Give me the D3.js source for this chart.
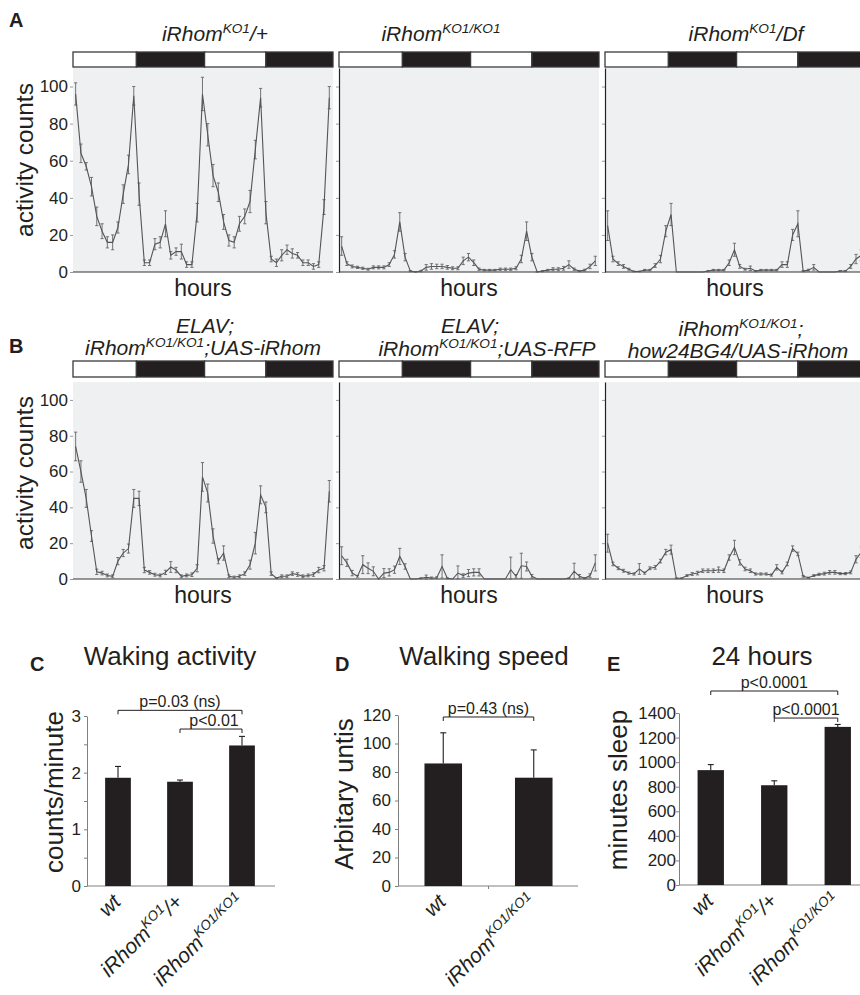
<!DOCTYPE html>
<html><head><meta charset="utf-8">
<script src="https://cdn.jsdelivr.net/npm/d3@7"></script>
<style>
body{margin:0;background:#fff}
text{font-family:"Liberation Sans",Arial,Helvetica,sans-serif;fill:#231f20}
</style>
</head><body>
<svg id="fig" width="860" height="995" xmlns="http://www.w3.org/2000/svg"></svg>
<script>
// ---------- DATA ----------
const hours = [0,1,2,3,4,5,6,7,8,9,10,11,12,13,14,15,16,17,18,19,20,21,22,23,24,25,26,27,28,29,30,31,32,33,34,35,36,37,38,39,40,41,42,43,44,45,46,47,48];
const lightBoundaries = [11.5, 24.4, 36];          // hours where light/dark switches
const phases = ["light","dark","light","dark"];
const activityTicks = [0,20,40,60,80,100];

const koHet    = [96,64,57,46,30,22,16,16,24,42,58,95,42,5,5,15,16,26,9,11,11,4,4,32,96,74,52,43,27,17,16,26,30,38,66,94,32,7,5,9,12,10,9,5,5,3,4,35,94];
const koHetErr = [6,5,2,5,5,4,3,4,3,5,5,5,6,1.5,1.5,3,3,7,2,2,4,1.5,1.5,5,9,6,6,5,4,3,3,4,4,6,5,5,6,1.5,2,3,2.5,2.5,1.5,1.5,1.5,1.5,1.5,4,6];
const koHom    = [14,4.5,3,2.5,2,1.5,2.5,2.5,2.5,4,9.5,27,8,0.5,0,0.5,2.5,3,3,3,2.5,2,2,6,8,5,1.5,1,1,1,1.5,1.5,1.5,2,7,22,8,0,0.5,1,1.5,1.5,2,4,1.5,0.5,1,3,6];
const koHomErr = [5,1,0.8,0.6,0.6,0.5,0.8,0.8,0.8,1,2,5,2,0.3,0.2,0.4,1.5,1.5,1.2,1.2,1,0.8,0.8,2,2,1.5,0.6,0.4,0.4,0.4,0.6,0.6,0.6,0.8,2,5,2,0.2,0.3,0.4,0.8,0.8,1,2,0.6,0.3,0.5,1.2,2.5];
const koDf     = [25,7,4.5,3,1.5,0.3,0.3,1,1,3.5,7,22,31,0,0,0,0,0,0,0.5,1,1,1,5,12,3,1.5,2,0.5,1,1,1,1,4,4,20,26,0.5,1,2.5,0,0,0,0,0.5,0.5,3,7,9];
const koDfErr  = [8,1.5,1,1,0.5,0.2,0.2,0.4,0.4,1,2,3,6,0,0,0,0,0,0,0.3,0.4,0.4,0.4,1.5,3.5,1,0.5,1.2,0.3,0.4,0.4,0.4,0.4,1.5,1.5,3,7,0.3,0.5,1.5,0,0,0,0,0.3,0.3,1,2.5,3];
const elavRescue    = [74,60,45,24,4,3.3,2,1.5,10,14.5,17,45,45,5,3.7,2.4,2,3.7,6.7,5,1.5,2,2.4,6,57,48,24,10,14.5,1.5,1,1.5,3,8,20,47,40,3,0.5,1.5,1.5,3,2.5,1.5,2,2.5,5,6,49];
const elavRescueErr = [8,6,5,3,1.5,1,0.8,0.8,2,2,2.5,5,4,1.5,1,0.8,0.8,1.2,3,1.5,0.8,0.8,1,2,8,5,4,1.5,4,0.8,0.6,0.8,1,2.5,6,5,3,1,0.3,0.8,0.8,1,1,0.8,0.8,1,1.5,1.5,6];
const elavRfp    = [13,9,3.3,1.5,8,6,4.3,0,3.3,3.7,5.2,12.6,7,0,0,0.4,1,0.6,0.7,7,0.4,0,3.3,1.9,3.3,3.7,3.7,0,0,0,0,0,5.2,1.5,7.4,7,1.5,0,0,0,0,0,0,0.4,4.3,1.5,0.4,1.9,9];
const elavRfpErr = [5,2,1.5,0.5,5,3,2.5,0,2.5,2,2,4.5,1.5,0,0,0.3,1.2,0.5,0.5,6.5,0.3,0,4,1,2,2,2,0,0,0,0,0,7,1,7,2.5,1,0,0,0,0,0,0,0.3,4.5,1,0.3,1,4.5];
const howRescue    = [20,8.4,6,4.6,3.3,2.8,5.6,3.3,6,6.5,10,15,16.4,0.4,0.4,1.9,2.8,3.3,4.6,4.6,4.6,5.2,4.6,12,17.6,9.3,5.6,4.6,2.8,2.8,2.8,2.2,6.5,3.7,8.4,17,14,1.5,0.7,1.9,2.6,3,3.7,3.7,3,3,3.7,11,15];
const howRescueErr = [5,1,0.8,0.8,0.6,0.6,3,0.6,0.8,1,1,1.5,2.5,0.2,0.2,0.5,0.8,1,1,1,1,1.5,1,1.5,4,1.5,1,1,0.6,0.6,0.6,0.6,1.5,0.8,1,1.5,1,0.5,0.3,0.5,0.6,0.8,1,1,0.6,0.6,0.8,2,3];

// genotype labels: [text, isSuperscript]
const lblWt    = [["wt",0]];
const lblHet   = [["iRhom",0],["KO1",1],["/+",0]];
const lblHom   = [["iRhom",0],["KO1/KO1",1]];

const wakingCats = ["wt","het","hom"];
const wakingVals = [1.91, 1.84, 2.48];
const wakingErr  = [0.20, 0.03, 0.16];
const wakingTicks = [0,0.5,1,1.5,2,2.5,3];

const speedCats = ["wt","hom"];
const speedVals = [86, 76];
const speedErr  = [21.5, 19.5];
const speedTicks = [0,20,40,60,80,100,120];

const sleepCats = ["wt","het","hom"];
const sleepVals = [935, 812, 1287];
const sleepErr  = [45, 36, 20];
const sleepTicks = [0,200,400,600,800,1000,1200,1400];

// ---------- HELPERS ----------
const svg = d3.select("#fig");
const INK = "#231f20";

function rich(textSel, parts, size){
  parts.forEach(([t,sup],i)=>{
    const prevSup = i>0 && parts[i-1][1];
    const ts = textSel.append("tspan").text(t);
    if(sup){ ts.attr("font-size", size*0.65); if(!prevSup) ts.attr("dy", -size*0.4); }
    else if(prevSup){ ts.attr("dy", size*0.4); }
  });
  return textSel;
}

function activity(c){
  const g = svg.append("g");
  const x = d3.scaleLinear().domain([-0.5, 48.7]).range([c.x0, c.x1]);
  const y = d3.scaleLinear().domain([0,110]).range([c.yb, c.yt]);
  g.append("rect").attr("x",c.x0).attr("y",c.yt).attr("width",c.x1-c.x0).attr("height",c.yb-c.yt).attr("fill","#eef0f2");
  const edges = [x.domain()[0], ...lightBoundaries, x.domain()[1]];
  g.selectAll(".ld").data(phases).join("rect")
    .attr("x",(p,i)=>x(edges[i])).attr("y",c.bt)
    .attr("width",(p,i)=>x(edges[i+1])-x(edges[i])).attr("height",c.bb-c.bt)
    .attr("fill",p=>p==="dark"?INK:"#fff").attr("stroke","#3a3a3a").attr("stroke-width",1.3);
  const ax = g.append("g").attr("transform",`translate(${c.x0},0)`)
    .call(d3.axisLeft(y).tickValues(activityTicks).tickSize(3).tickSizeOuter(0).tickPadding(2)
      .tickFormat(c.labels? d3.format("d") : ""));
  ax.select(".domain").attr("stroke", c.labels? "none" : "#222").attr("stroke-width",1.2);
  ax.selectAll(".tick line").attr("stroke","#999");
  ax.selectAll(".tick text").attr("font-size",17).attr("fill",INK)
    .style("font-family",'"Liberation Sans",Arial,sans-serif');
  g.append("line").attr("x1",c.x0).attr("x2",c.x1).attr("y1",y(0)).attr("y2",y(0)).attr("stroke","#333").attr("stroke-width",1.2);
  // error bars
  const eb = g.append("g").attr("stroke","#666").attr("stroke-width",0.9);
  c.vals.forEach((v,i)=>{
    const e = c.errs[i]; if(!e) return;
    const xx = x(hours[i]), lo = y(Math.max(0,v-e)), hi = y(v+e);
    eb.append("line").attr("x1",xx).attr("x2",xx).attr("y1",lo).attr("y2",hi);
    eb.append("line").attr("x1",xx-1.6).attr("x2",xx+1.6).attr("y1",lo).attr("y2",lo);
    eb.append("line").attr("x1",xx-1.6).attr("x2",xx+1.6).attr("y1",hi).attr("y2",hi);
  });
  g.append("path").datum(c.vals).attr("fill","none").attr("stroke","#555").attr("stroke-width",1.1)
    .attr("d", d3.line().x((d,i)=>x(hours[i])).y(d=>y(d)));
  g.append("text").attr("x",(c.x0+c.x1)/2).attr("y",c.yb+24).attr("text-anchor","middle").attr("font-size",23).text("hours");
  if(c.labels){
    g.append("text").attr("transform",`translate(33,${c.ylc}) rotate(-90)`).attr("text-anchor","middle").attr("font-size",24.5).text("activity counts");
  }
  c.title.forEach(([tx,ty,parts])=>{
    rich(g.append("text").attr("x",tx).attr("y",ty).attr("text-anchor","middle").attr("font-size",21).attr("font-style","italic"), parts, 21);
  });
}

function bars(c){
  const g = svg.append("g");
  const x = d3.scaleBand().domain(c.cats).range([c.x0,c.x1]).paddingInner(0.585).paddingOuter(0.2925);
  const y = d3.scaleLinear().domain([0,c.ymax]).range([c.yb,c.yt]);
  const ax = g.append("g").attr("transform",`translate(${c.x0},0)`)
    .call(d3.axisLeft(y).tickValues(c.ticks).tickSize(3).tickSizeOuter(0).tickPadding(c.pad)
      .tickFormat(d=> c.labelEvery(d) ? d : ""));
  ax.select(".domain").attr("stroke","#808080");
  ax.selectAll(".tick line").attr("stroke","#808080");
  ax.selectAll(".tick text").attr("font-size",17).attr("fill",INK).style("font-family",'"Liberation Sans",Arial,sans-serif');
  g.append("line").attr("x1",c.x0).attr("x2",c.xAxisEnd).attr("y1",y(0)).attr("y2",y(0)).attr("stroke","#808080").attr("stroke-width",1.2);
  if(c.midTick){
    const bx = x(c.cats[1]) - x.step()*x.paddingInner()/2;
    g.append("line").attr("x1",bx).attr("x2",bx).attr("y1",y(0)).attr("y2",y(0)+3).attr("stroke","#808080");
  }
  g.selectAll(".bar").data(c.vals).join("rect")
    .attr("x",(d,i)=>x(c.cats[i])).attr("y",d=>y(d)).attr("width",x.bandwidth()).attr("height",d=>y(0)-y(d)).attr("fill",INK);
  const eb = g.append("g").attr("stroke",INK).attr("stroke-width",1.1);
  c.vals.forEach((v,i)=>{
    const cx = x(c.cats[i])+x.bandwidth()/2;
    eb.append("line").attr("x1",cx).attr("x2",cx).attr("y1",y(v)).attr("y2",y(v+c.errs[i]));
    eb.append("line").attr("x1",cx-3).attr("x2",cx+3).attr("y1",y(v+c.errs[i])).attr("y2",y(v+c.errs[i]));
  });
  c.labels.forEach((parts,i)=>{
    const cx = x(c.cats[i])+x.bandwidth()/2;
    rich(g.append("text").attr("transform",`translate(${cx+4},${y(0)+17}) rotate(-45)`).attr("text-anchor","end")
      .attr("font-size",21).attr("font-style","italic"), parts, 21);
  });
  c.brackets.forEach(b=>{
    const xa = x(c.cats[b.from])+x.bandwidth()/2, xb = x(c.cats[b.to])+x.bandwidth()/2, yy = y(b.at);
    g.append("path").attr("d",`M${xa},${yy+4}V${yy}H${xb}V${yy+4}`).attr("fill","none").attr("stroke",INK).attr("stroke-width",1);
    g.append("text").attr("x",(xa+xb)/2+(b.dx||0)).attr("y",yy-3).attr("text-anchor","middle").attr("font-size",16).text(b.text);
  });
  g.append("text").attr("transform",`translate(${c.ylx},${c.yly}) rotate(-90)`).attr("text-anchor","middle").attr("font-size",26).text(c.ylabel);
  g.append("text").attr("x",c.tx).attr("y",665).attr("text-anchor","middle").attr("font-size",26).text(c.title);
  g.append("text").attr("x",c.lx).attr("y",671).attr("font-size",20).attr("font-weight","bold").text(c.letter);
}

// ---------- PANEL A / B ----------
const cols = [[73,333],[339,599],[605,865]];
const rowA = {bt:52, bb:67, yt:68, yb:272, ylc:160};
const rowB = {bt:361, bb:377, yt:382, yb:579, ylc:473};

activity({...rowA, x0:cols[0][0], x1:cols[0][1], vals:koHet, errs:koHetErr, labels:true,
  title:[[215,41,[["iRhom",0],["KO1",1],["/+",0]]]]});
activity({...rowA, x0:cols[1][0], x1:cols[1][1], vals:koHom, errs:koHomErr, labels:false,
  title:[[441,41,[["iRhom",0],["KO1/KO1",1]]]]});
activity({...rowA, x0:cols[2][0], x1:cols[2][1], vals:koDf, errs:koDfErr, labels:false,
  title:[[746,41,[["iRhom",0],["KO1",1],["/Df",0]]]]});
activity({...rowB, x0:cols[0][0], x1:cols[0][1], vals:elavRescue, errs:elavRescueErr, labels:true,
  title:[[205,333,[["ELAV;",0]]],[203,355,[["iRhom",0],["KO1/KO1",1],[";UAS-iRhom",0]]]]});
activity({...rowB, x0:cols[1][0], x1:cols[1][1], vals:elavRfp, errs:elavRfpErr, labels:false,
  title:[[470,333,[["ELAV;",0]]],[487,356,[["iRhom",0],["KO1/KO1",1],[";UAS-RFP",0]]]]});
activity({...rowB, x0:cols[2][0], x1:cols[2][1], vals:howRescue, errs:howRescueErr, labels:false,
  title:[[741,336,[["iRhom",0],["KO1/KO1",1],[";",0]]],[738,358,[["how24BG4/UAS-iRhom",0]]]]});

svg.append("text").attr("x",9).attr("y",27).attr("font-size",20).attr("font-weight","bold").text("A");
svg.append("text").attr("x",9).attr("y",353).attr("font-size",20).attr("font-weight","bold").text("B");

// ---------- PANEL C / D / E ----------
bars({cats:wakingCats, vals:wakingVals, errs:wakingErr, labels:[lblWt,lblHet,lblHom],
  x0:87, x1:273, xAxisEnd:275, yb:886, yt:716, ymax:3, ticks:wakingTicks, pad:3, labelEvery:d=>Number.isInteger(d),
  brackets:[{from:0,to:2,at:3.1,text:"p=0.03 (ns)"},{from:1,to:2,at:2.77,text:"p<0.01",dx:3}],
  ylabel:"counts/minute", ylx:63, yly:792, title:"Waking activity", tx:170, letter:"C", lx:30});
bars({cats:speedCats, vals:speedVals, errs:speedErr, labels:[lblWt,lblHom],
  x0:398, x1:579, xAxisEnd:578, yb:886, yt:715, ymax:120, ticks:speedTicks, pad:4, labelEvery:()=>true, midTick:true,
  brackets:[{from:0,to:1,at:118.6,text:"p=0.43 (ns)"}],
  ylabel:"Arbitary untis", ylx:353, yly:794, title:"Walking speed", tx:484, letter:"D", lx:335});
bars({cats:sleepCats, vals:sleepVals, errs:sleepErr, labels:[lblWt,lblHet,lblHom],
  x0:679, x1:869.5, xAxisEnd:870, yb:885, yt:713, ymax:1400, ticks:sleepTicks, pad:0, labelEvery:()=>true,
  brackets:[{from:0,to:2,at:1579,text:"p<0.0001"},{from:1,to:2,at:1359,text:"p<0.0001"}],
  ylabel:"minutes sleep", ylx:627, yly:790, title:"24 hours", tx:762, letter:"E", lx:607});
</script>
</body></html>
